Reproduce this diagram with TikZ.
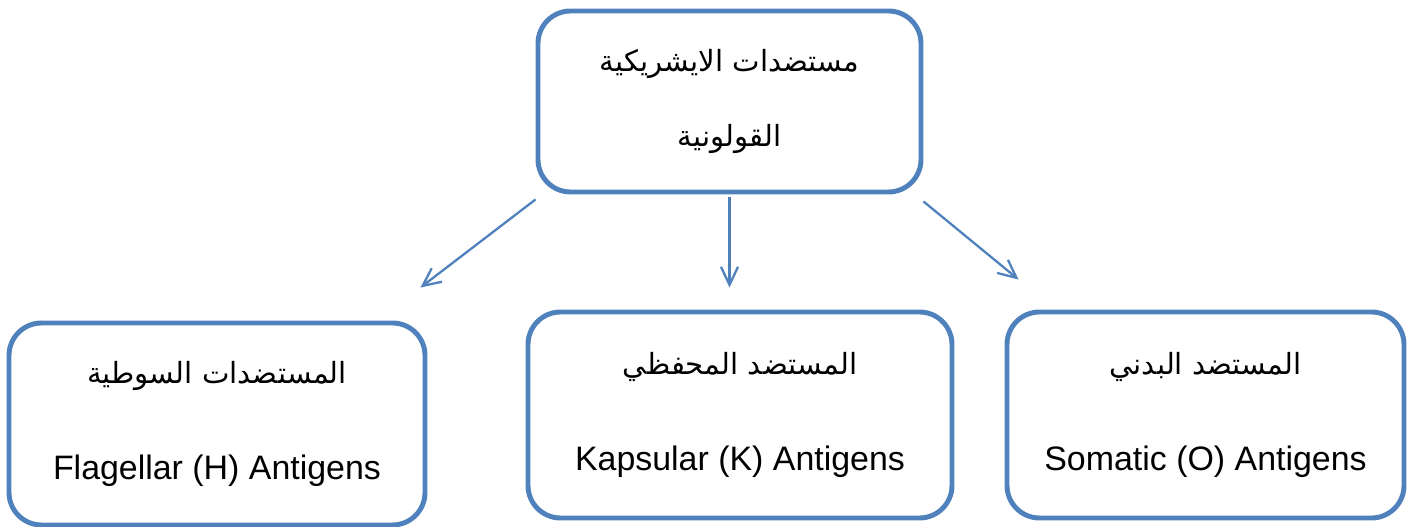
\documentclass[tikz,border=0pt]{standalone}
\usepackage{fontspec}
\setmainfont{Liberation Sans}
\newfontfamily\arabicfont[Script=Arabic,Scale=0.86]{DejaVu Sans}
\TeXXeTstate=1
\usetikzlibrary{arrows.meta}
\definecolor{boxblue}{HTML}{4F81BD}
\newcommand{\artext}[1]{{\arabicfont\beginR #1\endR}}
\begin{document}
\begin{tikzpicture}[
    antibox/.style={draw=boxblue, line width=2.8pt, rounded corners=0.65cm,
      align=center, inner sep=0pt, font=\fontsize{19.3}{23}\selectfont},
    link/.style={draw=boxblue, line width=1.3pt,
      -{Straight Barb[length=0.36cm,width=0.34cm]}}]
  \useasboundingbox (0,0) rectangle (28.26,10.54);
  \node[antibox, minimum width=7.66cm, minimum height=3.62cm] (ecoli) at (14.59,8.51)
    {\artext{مستضدات الايشريكية}\\[0.7cm]\artext{القولونية}};
  \node[antibox, minimum width=8.32cm, minimum height=4.04cm] (flag) at (4.34,2.06)
    {\artext{المستضدات السوطية}\\[1.1cm]Flagellar (H) Antigens};
  \node[antibox, minimum width=8.48cm, minimum height=4.12cm] (kaps) at (14.80,2.24)
    {\artext{المستضد المحفظي}\\[1.1cm]Kapsular (K) Antigens};
  \node[antibox, minimum width=7.94cm, minimum height=4.12cm] (soma) at (24.11,2.24)
    {\artext{المستضد البدني}\\[1.1cm]Somatic (O) Antigens};
  \begin{scope}[link]
    \draw ([yshift=-0.1cm]ecoli.south west) -- ([shift={(-0.14,0.66)}]flag.north east);
    \draw ([yshift=-0.06cm]ecoli.south) -- ([yshift=0.44cm]ecoli.south |- kaps.north);
    \draw ([yshift=-0.14cm]ecoli.south east) -- ([shift={(0.28,0.6)}]soma.north west);
  \end{scope}
\end{tikzpicture}
\end{document}
